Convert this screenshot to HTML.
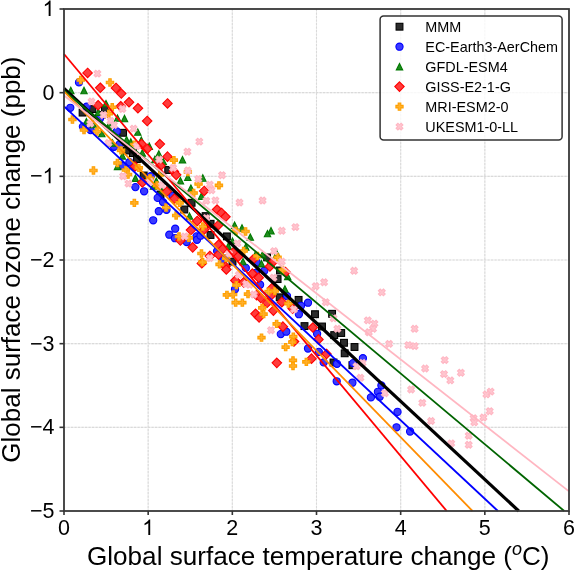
<!DOCTYPE html><html><head><meta charset="utf-8"><style>html,body{margin:0;padding:0;background:#fff;}svg{display:block;font-family:"Liberation Sans",sans-serif;will-change:transform;}</style></head><body>
<svg width="575" height="571" viewBox="0 0 575 571">
<rect width="575" height="571" fill="#fff"/>
<path d="M148.17 9V511M232.33 9V511M316.50 9V511M400.67 9V511M484.83 9V511M64 92.67H569M64 176.33H569M64 260.00H569M64 343.67H569M64 427.33H569" stroke="#f0f0f0" stroke-width="1.1" fill="none"/>
<path d="M148.17 9V511M232.33 9V511M316.50 9V511M400.67 9V511M484.83 9V511M64 92.67H569M64 176.33H569M64 260.00H569M64 343.67H569M64 427.33H569" stroke="#dadada" stroke-width="1.1" stroke-dasharray="2.2,1.3" fill="none"/>
<g fill="#2c2c2c" stroke="#000" stroke-width="1.1">
<rect x="79.2" y="109.2" width="6.8" height="6.8"/>
<rect x="89" y="105.7" width="6.8" height="6.8"/>
<rect x="98.6" y="111.6" width="6.8" height="6.8"/>
<rect x="101.5" y="106.3" width="6.8" height="6.8"/>
<rect x="119.7" y="129.4" width="6.8" height="6.8"/>
<rect x="129.5" y="149.7" width="6.8" height="6.8"/>
<rect x="164.8" y="166.6" width="6.8" height="6.8"/>
<rect x="140.3" y="172.1" width="6.8" height="6.8"/>
<rect x="157.1" y="191.1" width="6.8" height="6.8"/>
<rect x="188.2" y="199.4" width="6.8" height="6.8"/>
<rect x="180.9" y="206.1" width="6.8" height="6.8"/>
<rect x="202.2" y="212.7" width="6.8" height="6.8"/>
<rect x="207.1" y="231.6" width="6.8" height="6.8"/>
<rect x="223.5" y="233" width="6.8" height="6.8"/>
<rect x="229.1" y="258.2" width="6.8" height="6.8"/>
<rect x="263.7" y="254" width="6.8" height="6.8"/>
<rect x="274.2" y="275.7" width="6.8" height="6.8"/>
<rect x="276.3" y="293.9" width="6.8" height="6.8"/>
<rect x="295.2" y="296.5" width="6.8" height="6.8"/>
<rect x="311.6" y="310.8" width="6.8" height="6.8"/>
<rect x="301.1" y="322.7" width="6.8" height="6.8"/>
<rect x="328.7" y="310.4" width="6.8" height="6.8"/>
<rect x="337.8" y="329.6" width="6.8" height="6.8"/>
<rect x="330.8" y="331.7" width="6.8" height="6.8"/>
<rect x="318.6" y="323.1" width="6.8" height="6.8"/>
<rect x="340.6" y="339.4" width="6.8" height="6.8"/>
<rect x="351.1" y="343.6" width="6.8" height="6.8"/>
<rect x="341.3" y="349.9" width="6.8" height="6.8"/>
<rect x="330.1" y="359.1" width="6.8" height="6.8"/>
<rect x="349" y="361.8" width="6.8" height="6.8"/>
<rect x="207.2" y="220.4" width="6.8" height="6.8"/>
<rect x="123.1" y="147.1" width="6.8" height="6.8"/>
<rect x="133.6" y="155.6" width="6.8" height="6.8"/>
<rect x="276.6" y="267.1" width="6.8" height="6.8"/>
</g>
<g fill="#3a3aff" stroke="#0000ff" stroke-width="1.1">
<circle cx="79" cy="82.4" r="3.6"/>
<circle cx="70.3" cy="107.8" r="3.6"/>
<circle cx="86.6" cy="106.7" r="3.6"/>
<circle cx="100" cy="118.5" r="3.6"/>
<circle cx="82.9" cy="126.6" r="3.6"/>
<circle cx="90.6" cy="130.1" r="3.6"/>
<circle cx="116.8" cy="131.4" r="3.6"/>
<circle cx="114" cy="146.8" r="3.6"/>
<circle cx="119.6" cy="144.3" r="3.6"/>
<circle cx="129.4" cy="162.2" r="3.6"/>
<circle cx="122.4" cy="165.7" r="3.6"/>
<circle cx="135.4" cy="187.1" r="3.6"/>
<circle cx="144.1" cy="191.3" r="3.6"/>
<circle cx="150.7" cy="176.2" r="3.6"/>
<circle cx="157.7" cy="197.9" r="3.6"/>
<circle cx="172.4" cy="195.8" r="3.6"/>
<circle cx="158.8" cy="211.2" r="3.6"/>
<circle cx="153.2" cy="220.3" r="3.6"/>
<circle cx="166.5" cy="209.8" r="3.6"/>
<circle cx="169.3" cy="234.7" r="3.6"/>
<circle cx="175.2" cy="228.7" r="3.6"/>
<circle cx="174.9" cy="238.2" r="3.6"/>
<circle cx="163" cy="202.1" r="3.6"/>
<circle cx="196.5" cy="236.4" r="3.6"/>
<circle cx="186.7" cy="242" r="3.6"/>
<circle cx="197" cy="239.8" r="3.6"/>
<circle cx="200.5" cy="235.7" r="3.6"/>
<circle cx="217.1" cy="251.1" r="3.6"/>
<circle cx="223.4" cy="260.2" r="3.6"/>
<circle cx="245.8" cy="267.9" r="3.6"/>
<circle cx="264.3" cy="270.7" r="3.6"/>
<circle cx="256.6" cy="262.3" r="3.6"/>
<circle cx="235" cy="289.3" r="3.6"/>
<circle cx="260.1" cy="284.7" r="3.6"/>
<circle cx="255.9" cy="272.8" r="3.6"/>
<circle cx="308" cy="302.7" r="3.6"/>
<circle cx="301" cy="305.8" r="3.6"/>
<circle cx="298.9" cy="314.2" r="3.6"/>
<circle cx="287" cy="296" r="3.6"/>
<circle cx="280.8" cy="334.1" r="3.6"/>
<circle cx="317.1" cy="333.8" r="3.6"/>
<circle cx="286.3" cy="331.7" r="3.6"/>
<circle cx="308" cy="348.5" r="3.6"/>
<circle cx="337" cy="363.8" r="3.6"/>
<circle cx="353.1" cy="363.1" r="3.6"/>
<circle cx="318.8" cy="351.9" r="3.6"/>
<circle cx="323.7" cy="362.4" r="3.6"/>
<circle cx="336.7" cy="381.3" r="3.6"/>
<circle cx="352.4" cy="382.7" r="3.6"/>
<circle cx="362.9" cy="358.2" r="3.6"/>
<circle cx="381.4" cy="385.5" r="3.6"/>
<circle cx="377.9" cy="391.8" r="3.6"/>
<circle cx="370.9" cy="397.4" r="3.6"/>
<circle cx="379.7" cy="396.7" r="3.6"/>
<circle cx="397.5" cy="411.9" r="3.6"/>
<circle cx="396.5" cy="427.3" r="3.6"/>
<circle cx="410.1" cy="431.5" r="3.6"/>
</g>
<g fill="#1e8c1e" stroke="#007800" stroke-width="1.1">
<path d="M70.8,87.3L74,93.7L67.6,93.7Z"/>
<path d="M84,87.3L87.2,93.7L80.8,93.7Z"/>
<path d="M106,100.4L109.2,106.8L102.8,106.8Z"/>
<path d="M98.3,109.1L101.5,115.5L95.1,115.5Z"/>
<path d="M86.4,118.5L89.6,124.9L83.2,124.9Z"/>
<path d="M93.4,121.3L96.6,127.7L90.2,127.7Z"/>
<path d="M101.8,130.4L105,136.8L98.6,136.8Z"/>
<path d="M117.5,114.9L120.7,121.3L114.3,121.3Z"/>
<path d="M124.5,115.3L127.7,121.7L121.3,121.7Z"/>
<path d="M137.8,128.9L141,135.3L134.6,135.3Z"/>
<path d="M109.1,121.9L112.3,128.3L105.9,128.3Z"/>
<path d="M126.6,136.6L129.8,143L123.4,143Z"/>
<path d="M130.8,138.7L134,145.1L127.6,145.1Z"/>
<path d="M122.4,152.7L125.6,159.1L119.2,159.1Z"/>
<path d="M117.5,163.2L120.7,169.6L114.3,169.6Z"/>
<path d="M158.8,150.7L162,157.1L155.6,157.1Z"/>
<path d="M163.3,158.4L166.5,164.8L160.1,164.8Z"/>
<path d="M141.3,137.1L144.5,143.5L138.1,143.5Z"/>
<path d="M149.3,143L152.5,149.4L146.1,149.4Z"/>
<path d="M142.3,149.7L145.5,156.1L139.1,156.1Z"/>
<path d="M154.9,156.3L158.1,162.7L151.7,162.7Z"/>
<path d="M135.4,175.1L138.6,181.5L132.2,181.5Z"/>
<path d="M156.3,177.9L159.5,184.3L153.1,184.3Z"/>
<path d="M162.6,186.3L165.8,192.7L159.4,192.7Z"/>
<path d="M153.5,182.8L156.7,189.2L150.3,189.2Z"/>
<path d="M182.5,156.6L185.7,163L179.3,163Z"/>
<path d="M187.8,174.1L191,180.5L184.6,180.5Z"/>
<path d="M180.4,177.6L183.6,184L177.2,184Z"/>
<path d="M202.8,174.8L206,181.2L199.6,181.2Z"/>
<path d="M190.9,184.9L194.1,191.3L187.7,191.3Z"/>
<path d="M201.4,193L204.6,199.4L198.2,199.4Z"/>
<path d="M189.5,212.9L192.7,219.3L186.3,219.3Z"/>
<path d="M234.6,222L237.8,228.4L231.4,228.4Z"/>
<path d="M242,224.8L245.2,231.2L238.8,231.2Z"/>
<path d="M232.5,238.1L235.7,244.5L229.3,244.5Z"/>
<path d="M228.3,243L231.5,249.4L225.1,249.4Z"/>
<path d="M243,258.4L246.2,264.8L239.8,264.8Z"/>
<path d="M245.8,243.7L249,250.1L242.6,250.1Z"/>
<path d="M271,227.6L274.2,234L267.8,234Z"/>
<path d="M267.5,230.4L270.7,236.8L264.3,236.8Z"/>
<path d="M250.3,233.9L253.5,240.3L247.1,240.3Z"/>
<path d="M276.9,250.7L280.1,257.1L273.7,257.1Z"/>
<path d="M255.2,252.1L258.4,258.5L252,258.5Z"/>
<path d="M262.6,251.4L265.8,257.8L259.4,257.8Z"/>
<path d="M261.5,260.5L264.7,266.9L258.3,266.9Z"/>
<path d="M287.7,273.2L290.9,279.6L284.5,279.6Z"/>
<path d="M284.9,285.8L288.1,292.2L281.7,292.2Z"/>
<path d="M112.5,139.8L115.7,146.2L109.3,146.2Z"/>
</g>
<g fill="#ff3c3c" stroke="#ff0000" stroke-width="1.1">
<path d="M87.6,68.2L92.3,72.9L87.6,77.7L82.8,72.9Z"/>
<path d="M100.3,83L105,87.8L100.3,92.5L95.5,87.8Z"/>
<path d="M116,83.2L120.8,88L116,92.8L111.2,88Z"/>
<path d="M121.3,88.8L126,93.6L121.3,98.3L116.5,93.6Z"/>
<path d="M98.1,100.5L102.8,105.2L98.1,110L93.3,105.2Z"/>
<path d="M120.7,101.5L125.5,106.2L120.7,111L116,106.2Z"/>
<path d="M129,97.5L133.8,102.3L129,107L124.2,102.3Z"/>
<path d="M137.9,103.5L142.7,108.3L137.9,113L133.2,108.3Z"/>
<path d="M167.5,98.7L172.2,103.4L167.5,108.2L162.8,103.4Z"/>
<path d="M135,161.7L139.8,166.4L135,171.2L130.2,166.4Z"/>
<path d="M147.2,116.2L151.9,121L147.2,125.8L142.4,121Z"/>
<path d="M159.8,139.3L164.6,144.1L159.8,148.8L155.1,144.1Z"/>
<path d="M167.5,151.9L172.2,156.7L167.5,161.4L162.8,156.7Z"/>
<path d="M141.6,139.3L146.3,144.1L141.6,148.8L136.8,144.1Z"/>
<path d="M147.2,144.2L151.9,149L147.2,153.8L142.4,149Z"/>
<path d="M160.5,161.1L165.2,165.8L160.5,170.6L155.8,165.8Z"/>
<path d="M173.8,166.7L178.6,171.4L173.8,176.2L169.1,171.4Z"/>
<path d="M142.3,177.8L147.1,182.5L142.3,187.2L137.6,182.5Z"/>
<path d="M166.8,186.8L171.6,191.6L166.8,196.3L162.1,191.6Z"/>
<path d="M174.5,193.8L179.2,198.6L174.5,203.3L169.8,198.6Z"/>
<path d="M176.2,170.1L180.9,174.8L176.2,179.6L171.4,174.8Z"/>
<path d="M204.2,186.2L208.9,190.9L204.2,195.7L199.4,190.9Z"/>
<path d="M197.2,216.2L201.9,221L197.2,225.8L192.4,221Z"/>
<path d="M190.9,225.3L195.7,230.1L190.9,234.8L186.2,230.1Z"/>
<path d="M204.2,224.7L208.9,229.4L204.2,234.2L199.4,229.4Z"/>
<path d="M217.1,204.8L221.8,209.5L217.1,214.2L212.3,209.5Z"/>
<path d="M221.5,208.2L226.2,213L221.5,217.8L216.8,213Z"/>
<path d="M225.5,212.1L230.2,216.8L225.5,221.6L220.8,216.8Z"/>
<path d="M218.5,220.2L223.2,224.9L218.5,229.7L213.8,224.9Z"/>
<path d="M192.7,242.6L197.4,247.3L192.7,252.1L187.9,247.3Z"/>
<path d="M201.8,258.6L206.6,263.4L201.8,268.1L197.1,263.4Z"/>
<path d="M209.8,251.2L214.6,256L209.8,260.8L205.1,256Z"/>
<path d="M180.4,235.8L185.2,240.6L180.4,245.3L175.7,240.6Z"/>
<path d="M218.5,240.1L223.2,244.8L218.5,249.6L213.8,244.8Z"/>
<path d="M222.7,244.2L227.4,249L222.7,253.8L217.9,249Z"/>
<path d="M233.2,247.8L237.9,252.5L233.2,257.2L228.4,252.5Z"/>
<path d="M238.1,251.9L242.8,256.7L238.1,261.4L233.3,256.7Z"/>
<path d="M225.5,261.8L230.2,266.5L225.5,271.2L220.8,266.5Z"/>
<path d="M218.5,249.8L223.2,254.6L218.5,259.4L213.8,254.6Z"/>
<path d="M253.1,254.8L257.9,259.5L253.1,264.2L248.3,259.5Z"/>
<path d="M272,258.2L276.8,263L272,267.8L267.2,263Z"/>
<path d="M269.9,261.8L274.6,266.5L269.9,271.2L265.1,266.5Z"/>
<path d="M252.4,268.8L257.1,273.5L252.4,278.2L247.7,273.5Z"/>
<path d="M226.3,264.8L231.1,269.5L226.3,274.2L221.6,269.5Z"/>
<path d="M235.3,275.8L240.1,280.5L235.3,285.2L230.6,280.5Z"/>
<path d="M243.7,277.6L248.4,282.3L243.7,287.1L238.9,282.3Z"/>
<path d="M258.7,272.9L263.4,277.7L258.7,282.4L253.9,277.7Z"/>
<path d="M272,283.4L276.8,288.2L272,292.9L267.2,288.2Z"/>
<path d="M270.6,291.1L275.4,295.9L270.6,300.6L265.9,295.9Z"/>
<path d="M281.8,297.4L286.6,302.2L281.8,306.9L277.1,302.2Z"/>
<path d="M256.6,290.4L261.4,295.2L256.6,299.9L251.9,295.2Z"/>
<path d="M260.8,293.2L265.6,298L260.8,302.8L256.1,298Z"/>
<path d="M267.1,298.1L271.9,302.9L267.1,307.6L262.4,302.9Z"/>
<path d="M285.6,267.4L290.4,272.2L285.6,276.9L280.9,272.2Z"/>
<path d="M292.6,303.9L297.4,308.6L292.6,313.4L287.9,308.6Z"/>
<path d="M255.6,309.1L260.4,313.8L255.6,318.6L250.8,313.8Z"/>
<path d="M259.1,312.6L263.9,317.3L259.1,322.1L254.4,317.3Z"/>
<path d="M273.4,305.9L278.1,310.6L273.4,315.4L268.6,310.6Z"/>
<path d="M282.9,321.9L287.6,326.7L282.9,331.4L278.1,326.7Z"/>
<path d="M312.9,322.8L317.6,327.5L312.9,332.2L308.1,327.5Z"/>
<path d="M294,336.8L298.8,341.5L294,346.2L289.2,341.5Z"/>
<path d="M318.5,334.6L323.2,339.4L318.5,344.1L313.8,339.4Z"/>
<path d="M326.5,349.2L331.2,354L326.5,358.8L321.8,354Z"/>
<path d="M311.5,353.9L316.2,358.7L311.5,363.4L306.8,358.7Z"/>
<path d="M276.8,358.1L281.6,362.8L276.8,367.6L272.1,362.8Z"/>
</g>
<g fill="#ffb02c" stroke="#ffa000" stroke-width="1.1">
<path d="M79.5,76.2L82,76.2L82,78.7L84.5,78.7L84.5,81.2L82,81.2L82,83.6L79.5,83.6L79.5,81.2L77.1,81.2L77.1,78.7L79.5,78.7Z"/>
<path d="M108.8,78.8L111.2,78.8L111.2,81.2L113.7,81.2L113.7,83.7L111.2,83.7L111.2,86.1L108.8,86.1L108.8,83.7L106.3,83.7L106.3,81.2L108.8,81.2Z"/>
<path d="M111,103.6L113.5,103.6L113.5,106L116,106L116,108.5L113.5,108.5L113.5,111L111,111L111,108.5L108.6,108.5L108.6,106L111,106Z"/>
<path d="M71.2,115.9L73.7,115.9L73.7,118.3L76.1,118.3L76.1,120.8L73.7,120.8L73.7,123.2L71.2,123.2L71.2,120.8L68.8,120.8L68.8,118.3L71.2,118.3Z"/>
<path d="M82.8,126.4L85.2,126.4L85.2,128.8L87.7,128.8L87.7,131.3L85.2,131.3L85.2,133.8L82.8,133.8L82.8,131.3L80.3,131.3L80.3,128.8L82.8,128.8Z"/>
<path d="M95.7,127.8L98.2,127.8L98.2,130.2L100.6,130.2L100.6,132.8L98.2,132.8L98.2,135.2L95.7,135.2L95.7,132.8L93.2,132.8L93.2,130.2L95.7,130.2Z"/>
<path d="M107.5,110.1L110,110.1L110,112.5L112.5,112.5L112.5,115L110,115L110,117.5L107.5,117.5L107.5,115L105.1,115L105.1,112.5L107.5,112.5Z"/>
<path d="M133.1,141L135.6,141L135.6,143.4L138,143.4L138,145.9L135.6,145.9L135.6,148.3L133.1,148.3L133.1,145.9L130.7,145.9L130.7,143.4L133.1,143.4Z"/>
<path d="M119.8,146.7L122.2,146.7L122.2,149.1L124.7,149.1L124.7,151.6L122.2,151.6L122.2,154L119.8,154L119.8,151.6L117.3,151.6L117.3,149.1L119.8,149.1Z"/>
<path d="M116.2,159.2L118.8,159.2L118.8,161.7L121.2,161.7L121.2,164.2L118.8,164.2L118.8,166.6L116.2,166.6L116.2,164.2L113.8,164.2L113.8,161.7L116.2,161.7Z"/>
<path d="M92.2,166.8L94.7,166.8L94.7,169.2L97.1,169.2L97.1,171.7L94.7,171.7L94.7,174.1L92.2,174.1L92.2,171.7L89.8,171.7L89.8,169.2L92.2,169.2Z"/>
<path d="M172.6,156.5L175.1,156.5L175.1,158.9L177.5,158.9L177.5,161.4L175.1,161.4L175.1,163.8L172.6,163.8L172.6,161.4L170.2,161.4L170.2,158.9L172.6,158.9Z"/>
<path d="M124.7,166.2L127.2,166.2L127.2,168.7L129.6,168.7L129.6,171.2L127.2,171.2L127.2,173.6L124.7,173.6L124.7,171.2L122.2,171.2L122.2,168.7L124.7,168.7Z"/>
<path d="M126.8,170.8L129.2,170.8L129.2,173.2L131.7,173.2L131.7,175.8L129.2,175.8L129.2,178.2L126.8,178.2L126.8,175.8L124.3,175.8L124.3,173.2L126.8,173.2Z"/>
<path d="M133.1,199.2L135.6,199.2L135.6,201.6L138,201.6L138,204.1L135.6,204.1L135.6,206.5L133.1,206.5L133.1,204.1L130.7,204.1L130.7,201.6L133.1,201.6Z"/>
<path d="M137.6,164.2L140.1,164.2L140.1,166.6L142.5,166.6L142.5,169.1L140.1,169.1L140.1,171.5L137.6,171.5L137.6,169.1L135.2,169.1L135.2,166.6L137.6,166.6Z"/>
<path d="M148.8,174.7L151.2,174.7L151.2,177.1L153.7,177.1L153.7,179.6L151.2,179.6L151.2,182L148.8,182L148.8,179.6L146.3,179.6L146.3,177.1L148.8,177.1Z"/>
<path d="M155.8,181.7L158.2,181.7L158.2,184.1L160.7,184.1L160.7,186.6L158.2,186.6L158.2,189L155.8,189L155.8,186.6L153.3,186.6L153.3,184.1L155.8,184.1Z"/>
<path d="M158.6,171.2L161.1,171.2L161.1,173.6L163.5,173.6L163.5,176.1L161.1,176.1L161.1,178.5L158.6,178.5L158.6,176.1L156.2,176.1L156.2,173.6L158.6,173.6Z"/>
<path d="M186.6,168.3L189.1,168.3L189.1,170.8L191.5,170.8L191.5,173.2L189.1,173.2L189.1,175.7L186.6,175.7L186.6,173.2L184.2,173.2L184.2,170.8L186.6,170.8Z"/>
<path d="M197.3,180.2L199.8,180.2L199.8,182.7L202.2,182.7L202.2,185.2L199.8,185.2L199.8,187.6L197.3,187.6L197.3,185.2L194.9,185.2L194.9,182.7L197.3,182.7Z"/>
<path d="M192.4,189.3L194.9,189.3L194.9,191.8L197.3,191.8L197.3,194.2L194.9,194.2L194.9,196.7L192.4,196.7L192.4,194.2L190,194.2L190,191.8L192.4,191.8Z"/>
<path d="M178.4,199.2L180.9,199.2L180.9,201.6L183.3,201.6L183.3,204.1L180.9,204.1L180.9,206.5L178.4,206.5L178.4,204.1L176,204.1L176,201.6L178.4,201.6Z"/>
<path d="M164.8,203.8L167.3,203.8L167.3,206.2L169.8,206.2L169.8,208.7L167.3,208.7L167.3,211.1L164.8,211.1L164.8,208.7L162.4,208.7L162.4,206.2L164.8,206.2Z"/>
<path d="M174.9,211.8L177.4,211.8L177.4,214.2L179.8,214.2L179.8,216.7L177.4,216.7L177.4,219.1L174.9,219.1L174.9,216.7L172.5,216.7L172.5,214.2L174.9,214.2Z"/>
<path d="M201.6,222.9L204.1,222.9L204.1,225.3L206.5,225.3L206.5,227.8L204.1,227.8L204.1,230.2L201.6,230.2L201.6,227.8L199.2,227.8L199.2,225.3L201.6,225.3Z"/>
<path d="M177.8,232.8L180.2,232.8L180.2,235.2L182.7,235.2L182.7,237.7L180.2,237.7L180.2,240.1L177.8,240.1L177.8,237.7L175.3,237.7L175.3,235.2L177.8,235.2Z"/>
<path d="M187.6,234.2L190.1,234.2L190.1,236.6L192.5,236.6L192.5,239.1L190.1,239.1L190.1,241.5L187.6,241.5L187.6,239.1L185.2,239.1L185.2,236.6L187.6,236.6Z"/>
<path d="M217.7,181.7L220.2,181.7L220.2,184.1L222.6,184.1L222.6,186.6L220.2,186.6L220.2,189L217.7,189L217.7,186.6L215.2,186.6L215.2,184.1L217.7,184.1Z"/>
<path d="M244.2,227.8L246.8,227.8L246.8,230.2L249.2,230.2L249.2,232.8L246.8,232.8L246.8,235.2L244.2,235.2L244.2,232.8L241.8,232.8L241.8,230.2L244.2,230.2Z"/>
<path d="M234.8,227.3L237.2,227.3L237.2,229.8L239.7,229.8L239.7,232.2L237.2,232.2L237.2,234.7L234.8,234.7L234.8,232.2L232.3,232.2L232.3,229.8L234.8,229.8Z"/>
<path d="M200.2,249.9L202.7,249.9L202.7,252.3L205.1,252.3L205.1,254.8L202.7,254.8L202.7,257.2L200.2,257.2L200.2,254.8L197.8,254.8L197.8,252.3L200.2,252.3Z"/>
<path d="M201.2,258.6L203.8,258.6L203.8,260.9L206.2,260.9L206.2,263.4L203.8,263.4L203.8,265.8L201.2,265.8L201.2,263.4L198.8,263.4L198.8,260.9L201.2,260.9Z"/>
<path d="M218.3,260.8L220.8,260.8L220.8,263.1L223.2,263.1L223.2,265.6L220.8,265.6L220.8,268L218.3,268L218.3,265.6L215.9,265.6L215.9,263.1L218.3,263.1Z"/>
<path d="M224.9,254.5L227.4,254.5L227.4,256.9L229.8,256.9L229.8,259.4L227.4,259.4L227.4,261.8L224.9,261.8L224.9,259.4L222.5,259.4L222.5,256.9L224.9,256.9Z"/>
<path d="M242.4,247.4L244.9,247.4L244.9,249.8L247.3,249.8L247.3,252.3L244.9,252.3L244.9,254.8L242.4,254.8L242.4,252.3L240,252.3L240,249.8L242.4,249.8Z"/>
<path d="M276.4,253.7L278.9,253.7L278.9,256.1L281.2,256.1L281.2,258.6L278.9,258.6L278.9,261L276.4,261L276.4,258.6L274,258.6L274,256.1L276.4,256.1Z"/>
<path d="M256.1,252.3L258.6,252.3L258.6,254.8L260.9,254.8L260.9,257.2L258.6,257.2L258.6,259.6L256.1,259.6L256.1,257.2L253.7,257.2L253.7,254.8L256.1,254.8Z"/>
<path d="M281.2,266.4L283.8,266.4L283.8,268.8L286.1,268.8L286.1,271.2L283.8,271.2L283.8,273.6L281.2,273.6L281.2,271.2L278.9,271.2L278.9,268.8L281.2,268.8Z"/>
<path d="M235.2,281.5L237.7,281.5L237.7,283.9L240.1,283.9L240.1,286.4L237.7,286.4L237.7,288.8L235.2,288.8L235.2,286.4L232.8,286.4L232.8,283.9L235.2,283.9Z"/>
<path d="M225.7,291.2L228.2,291.2L228.2,293.6L230.6,293.6L230.6,296.1L228.2,296.1L228.2,298.5L225.7,298.5L225.7,296.1L223.2,296.1L223.2,293.6L225.7,293.6Z"/>
<path d="M231.9,290.9L234.4,290.9L234.4,293.2L236.8,293.2L236.8,295.8L234.4,295.8L234.4,298.1L231.9,298.1L231.9,295.8L229.5,295.8L229.5,293.2L231.9,293.2Z"/>
<path d="M234.4,299L236.9,299L236.9,301.4L239.3,301.4L239.3,303.9L236.9,303.9L236.9,306.2L234.4,306.2L234.4,303.9L232,303.9L232,301.4L234.4,301.4Z"/>
<path d="M241.1,299L243.6,299L243.6,301.4L246,301.4L246,303.9L243.6,303.9L243.6,306.2L241.1,306.2L241.1,303.9L238.7,303.9L238.7,301.4L241.1,301.4Z"/>
<path d="M246.8,290.6L249.2,290.6L249.2,292.9L251.7,292.9L251.7,295.4L249.2,295.4L249.2,297.8L246.8,297.8L246.8,295.4L244.3,295.4L244.3,292.9L246.8,292.9Z"/>
<path d="M273.6,287.4L276.1,287.4L276.1,289.8L278.4,289.8L278.4,292.2L276.1,292.2L276.1,294.6L273.6,294.6L273.6,292.2L271.2,292.2L271.2,289.8L273.6,289.8Z"/>
<path d="M267.2,288.1L269.8,288.1L269.8,290.4L272.1,290.4L272.1,292.9L269.8,292.9L269.8,295.3L267.2,295.3L267.2,292.9L264.9,292.9L264.9,290.4L267.2,290.4Z"/>
<path d="M260.9,304.2L263.4,304.2L263.4,306.6L265.8,306.6L265.8,309.1L263.4,309.1L263.4,311.4L260.9,311.4L260.9,309.1L258.6,309.1L258.6,306.6L260.9,306.6Z"/>
<path d="M287.1,300.1L289.6,300.1L289.6,302.4L292,302.4L292,304.9L289.6,304.9L289.6,307.3L287.1,307.3L287.1,304.9L284.8,304.9L284.8,302.4L287.1,302.4Z"/>
<path d="M262.4,310.5L264.9,310.5L264.9,312.9L267.2,312.9L267.2,315.4L264.9,315.4L264.9,317.8L262.4,317.8L262.4,315.4L260,315.4L260,312.9L262.4,312.9Z"/>
<path d="M275.4,320.2L277.9,320.2L277.9,322.6L280.2,322.6L280.2,325.1L277.9,325.1L277.9,327.5L275.4,327.5L275.4,325.1L273,325.1L273,322.6L275.4,322.6Z"/>
<path d="M260.2,334L262.8,334L262.8,336.4L265.1,336.4L265.1,338.9L262.8,338.9L262.8,341.2L260.2,341.2L260.2,338.9L257.9,338.9L257.9,336.4L260.2,336.4Z"/>
<path d="M292.1,333L294.6,333L294.6,335.4L296.9,335.4L296.9,337.9L294.6,337.9L294.6,340.2L292.1,340.2L292.1,337.9L289.7,337.9L289.7,335.4L292.1,335.4Z"/>
<path d="M291.1,338.6L293.6,338.6L293.6,340.9L295.9,340.9L295.9,343.4L293.6,343.4L293.6,345.8L291.1,345.8L291.1,343.4L288.7,343.4L288.7,340.9L291.1,340.9Z"/>
<path d="M284.4,343.5L286.9,343.5L286.9,345.9L289.2,345.9L289.2,348.4L286.9,348.4L286.9,350.8L284.4,350.8L284.4,348.4L282,348.4L282,345.9L284.4,345.9Z"/>
<path d="M291.8,356.8L294.2,356.8L294.2,359.1L296.6,359.1L296.6,361.6L294.2,361.6L294.2,364L291.8,364L291.8,361.6L289.4,361.6L289.4,359.1L291.8,359.1Z"/>
<path d="M291.8,362.4L294.2,362.4L294.2,364.8L296.6,364.8L296.6,367.2L294.2,367.2L294.2,369.6L291.8,369.6L291.8,367.2L289.4,367.2L289.4,364.8L291.8,364.8Z"/>
<path d="M305.1,358.2L307.6,358.2L307.6,360.6L309.9,360.6L309.9,363.1L307.6,363.1L307.6,365.4L305.1,365.4L305.1,363.1L302.7,363.1L302.7,360.6L305.1,360.6Z"/>
</g>
<g fill="#ffc6cf" stroke="#ffb6c3" stroke-width="1.1">
<path d="M99,70.2L100.8,72L99.2,73.6L100.8,75.2L99,77L97.4,75.4L95.8,77L94,75.2L95.6,73.6L94,72L95.8,70.2L97.4,71.8Z"/>
<path d="M93.1,98.1L94.9,99.9L93.3,101.5L94.9,103.1L93.1,104.9L91.5,103.3L89.9,104.9L88.1,103.1L89.7,101.5L88.1,99.9L89.9,98.1L91.5,99.7Z"/>
<path d="M91.9,120.1L93.7,121.9L92.1,123.5L93.7,125.1L91.9,126.9L90.3,125.3L88.7,126.9L86.9,125.1L88.5,123.5L86.9,121.9L88.7,120.1L90.3,121.7Z"/>
<path d="M105.1,111.6L106.9,113.4L105.3,115L106.9,116.6L105.1,118.4L103.5,116.8L101.9,118.4L100.1,116.6L101.7,115L100.1,113.4L101.9,111.6L103.5,113.2Z"/>
<path d="M124,105.6L125.8,107.4L124.2,109L125.8,110.6L124,112.4L122.4,110.8L120.8,112.4L119,110.6L120.6,109L119,107.4L120.8,105.6L122.4,107.2Z"/>
<path d="M112.1,117.5L113.9,119.3L112.3,120.9L113.9,122.5L112.1,124.3L110.5,122.7L108.9,124.3L107.1,122.5L108.7,120.9L107.1,119.3L108.9,117.5L110.5,119.1Z"/>
<path d="M115.6,121.7L117.4,123.5L115.8,125.1L117.4,126.7L115.6,128.5L114,126.9L112.4,128.5L110.6,126.7L112.2,125.1L110.6,123.5L112.4,121.7L114,123.3Z"/>
<path d="M135.2,125.2L137,127L135.4,128.6L137,130.2L135.2,132L133.6,130.4L132,132L130.2,130.2L131.8,128.6L130.2,127L132,125.2L133.6,126.8Z"/>
<path d="M160.7,156.1L162.5,157.9L160.9,159.5L162.5,161.1L160.7,162.9L159.1,161.3L157.5,162.9L155.7,161.1L157.3,159.5L155.7,157.9L157.5,156.1L159.1,157.7Z"/>
<path d="M138.3,142.8L140.1,144.6L138.5,146.2L140.1,147.8L138.3,149.6L136.7,148L135.1,149.6L133.3,147.8L134.9,146.2L133.3,144.6L135.1,142.8L136.7,144.4Z"/>
<path d="M174.7,164.5L176.5,166.3L174.9,167.9L176.5,169.5L174.7,171.3L173.1,169.7L171.5,171.3L169.7,169.5L171.3,167.9L169.7,166.3L171.5,164.5L173.1,166.1Z"/>
<path d="M124.7,172.8L126.5,174.6L124.9,176.2L126.5,177.8L124.7,179.6L123.1,178L121.5,179.6L119.7,177.8L121.3,176.2L119.7,174.6L121.5,172.8L123.1,174.4Z"/>
<path d="M130,180.2L131.8,182L130.2,183.6L131.8,185.2L130,187L128.4,185.4L126.8,187L125,185.2L126.6,183.6L125,182L126.8,180.2L128.4,181.8Z"/>
<path d="M151.6,178.4L153.4,180.2L151.8,181.8L153.4,183.4L151.6,185.2L150,183.6L148.4,185.2L146.6,183.4L148.2,181.8L146.6,180.2L148.4,178.4L150,180Z"/>
<path d="M163.5,181.9L165.3,183.7L163.7,185.3L165.3,186.9L163.5,188.7L161.9,187.1L160.3,188.7L158.5,186.9L160.1,185.3L158.5,183.7L160.3,181.9L161.9,183.5Z"/>
<path d="M200.9,138.2L202.7,140L201.1,141.6L202.7,143.2L200.9,145L199.3,143.4L197.7,145L195.9,143.2L197.5,141.6L195.9,140L197.7,138.2L199.3,139.8Z"/>
<path d="M189,148.3L190.8,150.1L189.2,151.7L190.8,153.3L189,155.1L187.4,153.5L185.8,155.1L184,153.3L185.6,151.7L184,150.1L185.8,148.3L187.4,149.9Z"/>
<path d="M189.4,167.1L191.2,168.9L189.6,170.5L191.2,172.1L189.4,173.9L187.8,172.3L186.2,173.9L184.4,172.1L186,170.5L184.4,168.9L186.2,167.1L187.8,168.7Z"/>
<path d="M199.9,175.6L201.7,177.4L200.1,179L201.7,180.6L199.9,182.4L198.3,180.8L196.7,182.4L194.9,180.6L196.5,179L194.9,177.4L196.7,175.6L198.3,177.2Z"/>
<path d="M211.4,181.2L213.2,183L211.6,184.6L213.2,186.2L211.4,188L209.8,186.4L208.2,188L206.4,186.2L208,184.6L206.4,183L208.2,181.2L209.8,182.8Z"/>
<path d="M207.9,197.3L209.7,199.1L208.1,200.7L209.7,202.3L207.9,204.1L206.3,202.5L204.7,204.1L202.9,202.3L204.5,200.7L202.9,199.1L204.7,197.3L206.3,198.9Z"/>
<path d="M186.2,233L188,234.8L186.4,236.4L188,238L186.2,239.8L184.6,238.2L183,239.8L181.2,238L182.8,236.4L181.2,234.8L183,233L184.6,234.6Z"/>
<path d="M207.9,214.8L209.7,216.6L208.1,218.2L209.7,219.8L207.9,221.6L206.3,220L204.7,221.6L202.9,219.8L204.5,218.2L202.9,216.6L204.7,214.8L206.3,216.4Z"/>
<path d="M223.6,171.8L225.4,173.6L223.8,175.2L225.4,176.8L223.6,178.6L222,177L220.4,178.6L218.6,176.8L220.2,175.2L218.6,173.6L220.4,171.8L222,173.4Z"/>
<path d="M213.1,186.8L214.9,188.6L213.3,190.2L214.9,191.8L213.1,193.6L211.5,192L209.9,193.6L208.1,191.8L209.7,190.2L208.1,188.6L209.9,186.8L211.5,188.4Z"/>
<path d="M217,197L218.8,198.8L217.2,200.4L218.8,202L217,203.8L215.4,202.2L213.8,203.8L212,202L213.6,200.4L212,198.8L213.8,197L215.4,198.6Z"/>
<path d="M241.1,199.1L242.9,200.9L241.3,202.5L242.9,204.1L241.1,205.9L239.5,204.3L237.9,205.9L236.1,204.1L237.7,202.5L236.1,200.9L237.9,199.1L239.5,200.7Z"/>
<path d="M211.4,254.7L213.2,256.5L211.6,258.1L213.2,259.7L211.4,261.5L209.8,259.9L208.2,261.5L206.4,259.7L208,258.1L206.4,256.5L208.2,254.7L209.8,256.3Z"/>
<path d="M239,240L240.8,241.8L239.2,243.4L240.8,245L239,246.8L237.4,245.2L235.8,246.8L234,245L235.6,243.4L234,241.8L235.8,240L237.4,241.6Z"/>
<path d="M230.6,250.5L232.4,252.3L230.8,253.9L232.4,255.5L230.6,257.3L229,255.7L227.4,257.3L225.6,255.5L227.2,253.9L225.6,252.3L227.4,250.5L229,252.1Z"/>
<path d="M264.2,197.1L266,198.9L264.4,200.5L266,202.1L264.2,203.9L262.6,202.3L261,203.9L259.2,202.1L260.8,200.5L259.2,198.9L261,197.1L262.6,198.7Z"/>
<path d="M283.4,227.4L285.2,229.2L283.6,230.8L285.2,232.4L283.4,234.2L281.8,232.6L280.2,234.2L278.4,232.4L280,230.8L278.4,229.2L280.2,227.4L281.8,229Z"/>
<path d="M297,223.7L298.8,225.5L297.2,227.1L298.8,228.7L297,230.5L295.4,228.9L293.8,230.5L292,228.7L293.6,227.1L292,225.5L293.8,223.7L295.4,225.3Z"/>
<path d="M275.7,247.7L277.5,249.5L275.9,251.1L277.5,252.7L275.7,254.5L274.1,252.9L272.5,254.5L270.7,252.7L272.3,251.1L270.7,249.5L272.5,247.7L274.1,249.3Z"/>
<path d="M283.4,258.2L285.2,260L283.6,261.6L285.2,263.2L283.4,265L281.8,263.4L280.2,265L278.4,263.2L280,261.6L278.4,260L280.2,258.2L281.8,259.8Z"/>
<path d="M240.4,271.5L242.2,273.3L240.6,274.9L242.2,276.5L240.4,278.3L238.8,276.7L237.2,278.3L235.4,276.5L237,274.9L235.4,273.3L237.2,271.5L238.8,273.1Z"/>
<path d="M247.8,280.6L249.6,282.4L248,284L249.6,285.6L247.8,287.4L246.2,285.8L244.6,287.4L242.8,285.6L244.4,284L242.8,282.4L244.6,280.6L246.2,282.2Z"/>
<path d="M275,274.3L276.8,276.1L275.2,277.7L276.8,279.3L275,281.1L273.4,279.5L271.8,281.1L270,279.3L271.6,277.7L270,276.1L271.8,274.3L273.4,275.9Z"/>
<path d="M255.4,291.1L257.2,292.9L255.6,294.5L257.2,296.1L255.4,297.9L253.8,296.3L252.2,297.9L250.4,296.1L252,294.5L250.4,292.9L252.2,291.1L253.8,292.7Z"/>
<path d="M251.2,281.3L253,283.1L251.4,284.7L253,286.3L251.2,288.1L249.6,286.5L248,288.1L246.2,286.3L247.8,284.7L246.2,283.1L248,281.3L249.6,282.9Z"/>
<path d="M317.3,282.8L319.1,284.6L317.5,286.2L319.1,287.8L317.3,289.6L315.7,288L314.1,289.6L312.3,287.8L313.9,286.2L312.3,284.6L314.1,282.8L315.7,284.4Z"/>
<path d="M295.6,305.9L297.4,307.7L295.8,309.3L297.4,310.9L295.6,312.7L294,311.1L292.4,312.7L290.6,310.9L292.2,309.3L290.6,307.7L292.4,305.9L294,307.5Z"/>
<path d="M272.6,326.8L274.4,328.6L272.8,330.2L274.4,331.8L272.6,333.6L271,332L269.4,333.6L267.6,331.8L269.2,330.2L267.6,328.6L269.4,326.8L271,328.4Z"/>
<path d="M325.7,278.9L327.5,280.7L325.9,282.3L327.5,283.9L325.7,285.7L324.1,284.1L322.5,285.7L320.7,283.9L322.3,282.3L320.7,280.7L322.5,278.9L324.1,280.5Z"/>
<path d="M327.4,298.8L329.2,300.6L327.6,302.2L329.2,303.8L327.4,305.6L325.8,304L324.2,305.6L322.4,303.8L324,302.2L322.4,300.6L324.2,298.8L325.8,300.4Z"/>
<path d="M355.7,267.4L357.5,269.2L355.9,270.8L357.5,272.4L355.7,274.2L354.1,272.6L352.5,274.2L350.7,272.4L352.3,270.8L350.7,269.2L352.5,267.4L354.1,269Z"/>
<path d="M335.1,314.9L336.9,316.7L335.3,318.3L336.9,319.9L335.1,321.7L333.5,320.1L331.9,321.7L330.1,319.9L331.7,318.3L330.1,316.7L331.9,314.9L333.5,316.5Z"/>
<path d="M339,325.4L340.8,327.2L339.2,328.8L340.8,330.4L339,332.2L337.4,330.6L335.8,332.2L334,330.4L335.6,328.8L334,327.2L335.8,325.4L337.4,327Z"/>
<path d="M383.4,289L385.2,290.8L383.6,292.4L385.2,294L383.4,295.8L381.8,294.2L380.2,295.8L378.4,294L380,292.4L378.4,290.8L380.2,289L381.8,290.6Z"/>
<path d="M369.4,317L371.2,318.8L369.6,320.4L371.2,322L369.4,323.8L367.8,322.2L366.2,323.8L364.4,322L366,320.4L364.4,318.8L366.2,317L367.8,318.6Z"/>
<path d="M376,320.2L377.8,322L376.2,323.6L377.8,325.2L376,327L374.4,325.4L372.8,327L371,325.2L372.6,323.6L371,322L372.8,320.2L374.4,321.8Z"/>
<path d="M374.6,325.4L376.4,327.2L374.8,328.8L376.4,330.4L374.6,332.2L373,330.6L371.4,332.2L369.6,330.4L371.2,328.8L369.6,327.2L371.4,325.4L373,327Z"/>
<path d="M370.4,328.9L372.2,330.7L370.6,332.3L372.2,333.9L370.4,335.7L368.8,334.1L367.2,335.7L365.4,333.9L367,332.3L365.4,330.7L367.2,328.9L368.8,330.5Z"/>
<path d="M390.7,340.5L392.5,342.3L390.9,343.9L392.5,345.5L390.7,347.3L389.1,345.7L387.5,347.3L385.7,345.5L387.3,343.9L385.7,342.3L387.5,340.5L389.1,342.1Z"/>
<path d="M358.2,362.9L360,364.7L358.4,366.3L360,367.9L358.2,369.7L356.6,368.1L355,369.7L353.2,367.9L354.8,366.3L353.2,364.7L355,362.9L356.6,364.5Z"/>
<path d="M364.1,359.6L365.9,361.4L364.3,363L365.9,364.6L364.1,366.4L362.5,364.8L360.9,366.4L359.1,364.6L360.7,363L359.1,361.4L360.9,359.6L362.5,361.2Z"/>
<path d="M362,374.4L363.8,376.2L362.2,377.8L363.8,379.4L362,381.2L360.4,379.6L358.8,381.2L357,379.4L358.6,377.8L357,376.2L358.8,374.4L360.4,376Z"/>
<path d="M386.5,389.8L388.3,391.6L386.7,393.2L388.3,394.8L386.5,396.6L384.9,395L383.3,396.6L381.5,394.8L383.1,393.2L381.5,391.6L383.3,389.8L384.9,391.4Z"/>
<path d="M409.9,341.7L411.7,343.5L410.1,345.1L411.7,346.7L409.9,348.5L408.3,346.9L406.7,348.5L404.9,346.7L406.5,345.1L404.9,343.5L406.7,341.7L408.3,343.3Z"/>
<path d="M416.2,342.7L418,344.5L416.4,346.1L418,347.7L416.2,349.5L414.6,347.9L413,349.5L411.2,347.7L412.8,346.1L411.2,344.5L413,342.7L414.6,344.3Z"/>
<path d="M446.3,356.7L448.1,358.5L446.5,360.1L448.1,361.7L446.3,363.5L444.7,361.9L443.1,363.5L441.3,361.7L442.9,360.1L441.3,358.5L443.1,356.7L444.7,358.3Z"/>
<path d="M426.7,365.1L428.5,366.9L426.9,368.5L428.5,370.1L426.7,371.9L425.1,370.3L423.5,371.9L421.7,370.1L423.3,368.5L421.7,366.9L423.5,365.1L425.1,366.7Z"/>
<path d="M445.6,370.7L447.4,372.5L445.8,374.1L447.4,375.7L445.6,377.5L444,375.9L442.4,377.5L440.6,375.7L442.2,374.1L440.6,372.5L442.4,370.7L444,372.3Z"/>
<path d="M451.9,377L453.7,378.8L452.1,380.4L453.7,382L451.9,383.8L450.3,382.2L448.7,383.8L446.9,382L448.5,380.4L446.9,378.8L448.7,377L450.3,378.6Z"/>
<path d="M462.5,369.3L464.3,371.1L462.7,372.7L464.3,374.3L462.5,376.1L460.9,374.5L459.3,376.1L457.5,374.3L459.1,372.7L457.5,371.1L459.3,369.3L460.9,370.9Z"/>
<path d="M412.7,386.1L414.5,387.9L412.9,389.5L414.5,391.1L412.7,392.9L411.1,391.3L409.5,392.9L407.7,391.1L409.3,389.5L407.7,387.9L409.5,386.1L411.1,387.7Z"/>
<path d="M423.9,399.5L425.7,401.3L424.1,402.9L425.7,404.5L423.9,406.3L422.3,404.7L420.7,406.3L418.9,404.5L420.5,402.9L418.9,401.3L420.7,399.5L422.3,401.1Z"/>
<path d="M416.2,325.4L418,327.2L416.4,328.8L418,330.4L416.2,332.2L414.6,330.6L413,332.2L411.2,330.4L412.8,328.8L411.2,327.2L413,325.4L414.6,327Z"/>
<path d="M492.2,388.2L494,390L492.4,391.6L494,393.2L492.2,395L490.6,393.4L489,395L487.2,393.2L488.8,391.6L487.2,390L489,388.2L490.6,389.8Z"/>
<path d="M488,391L489.8,392.8L488.2,394.4L489.8,396L488,397.8L486.4,396.2L484.8,397.8L483,396L484.6,394.4L483,392.8L484.8,391L486.4,392.6Z"/>
<path d="M491.3,407.8L493.1,409.6L491.5,411.2L493.1,412.8L491.3,414.6L489.7,413L488.1,414.6L486.3,412.8L487.9,411.2L486.3,409.6L488.1,407.8L489.7,409.4Z"/>
<path d="M485,414.1L486.8,415.9L485.2,417.5L486.8,419.1L485,420.9L483.4,419.3L481.8,420.9L480,419.1L481.6,417.5L480,415.9L481.8,414.1L483.4,415.7Z"/>
<path d="M475.2,414.8L477,416.6L475.4,418.2L477,419.8L475.2,421.6L473.6,420L472,421.6L470.2,419.8L471.8,418.2L470.2,416.6L472,414.8L473.6,416.4Z"/>
<path d="M475.9,419L477.7,420.8L476.1,422.4L477.7,424L475.9,425.8L474.3,424.2L472.7,425.8L470.9,424L472.5,422.4L470.9,420.8L472.7,419L474.3,420.6Z"/>
<path d="M470.3,432.3L472.1,434.1L470.5,435.7L472.1,437.3L470.3,439.1L468.7,437.5L467.1,439.1L465.3,437.3L466.9,435.7L465.3,434.1L467.1,432.3L468.7,433.9Z"/>
<path d="M470.3,441.4L472.1,443.2L470.5,444.8L472.1,446.4L470.3,448.2L468.7,446.6L467.1,448.2L465.3,446.4L466.9,444.8L465.3,443.2L467.1,441.4L468.7,443Z"/>
<path d="M452.8,440L454.6,441.8L453,443.4L454.6,445L452.8,446.8L451.2,445.2L449.6,446.8L447.8,445L449.4,443.4L447.8,441.8L449.6,440L451.2,441.6Z"/>
<path d="M432.7,417.6L434.5,419.4L432.9,421L434.5,422.6L432.7,424.4L431.1,422.8L429.5,424.4L427.7,422.6L429.3,421L427.7,419.4L429.5,417.6L431.1,419.2Z"/>
<path d="M110.1,139.6L111.9,141.4L110.3,143L111.9,144.6L110.1,146.4L108.5,144.8L106.9,146.4L105.1,144.6L106.7,143L105.1,141.4L106.9,139.6L108.5,141.2Z"/>
</g>
<line x1="64" y1="88.5" x2="518.7" y2="511" stroke="#000000" stroke-width="3.2"/>
<line x1="64" y1="106.4" x2="497.9" y2="511" stroke="#0000ff" stroke-width="1.9"/>
<line x1="64" y1="90.5" x2="564.2" y2="511" stroke="#006400" stroke-width="1.8"/>
<line x1="64" y1="54.0" x2="446.7" y2="511" stroke="#ff0000" stroke-width="1.8"/>
<line x1="64" y1="91.3" x2="472.5" y2="511" stroke="#ff8c00" stroke-width="1.8"/>
<line x1="64" y1="95.5" x2="569" y2="491.4" stroke="#ffb6c1" stroke-width="1.8"/>
<rect x="64" y="9" width="505" height="502" fill="none" stroke="#383838" stroke-width="1.8"/>
<g stroke="#333" stroke-width="1.6">
<line x1="64.00" y1="511" x2="64.00" y2="515"/>
<line x1="148.17" y1="511" x2="148.17" y2="515"/>
<line x1="232.33" y1="511" x2="232.33" y2="515"/>
<line x1="316.50" y1="511" x2="316.50" y2="515"/>
<line x1="400.67" y1="511" x2="400.67" y2="515"/>
<line x1="484.83" y1="511" x2="484.83" y2="515"/>
<line x1="569.00" y1="511" x2="569.00" y2="515"/>
<line x1="59.5" y1="9.00" x2="64" y2="9.00"/>
<line x1="59.5" y1="92.67" x2="64" y2="92.67"/>
<line x1="59.5" y1="176.33" x2="64" y2="176.33"/>
<line x1="59.5" y1="260.00" x2="64" y2="260.00"/>
<line x1="59.5" y1="343.67" x2="64" y2="343.67"/>
<line x1="59.5" y1="427.33" x2="64" y2="427.33"/>
<line x1="59.5" y1="511.00" x2="64" y2="511.00"/>
</g>
<g font-size="21.5" fill="#000" stroke="none">
<text x="64.00" y="535" text-anchor="middle">0</text>
<path transform="translate(142.19,535.00) scale(0.01050,-0.01050)" d="M763 0H583V1147Q518 1085 412.5 1023T223 930V1104Q374 1175 487 1276T647 1472H763V0Z"/>
<text x="232.33" y="535" text-anchor="middle">2</text>
<text x="316.50" y="535" text-anchor="middle">3</text>
<text x="400.67" y="535" text-anchor="middle">4</text>
<text x="484.83" y="535" text-anchor="middle">5</text>
<text x="569.00" y="535" text-anchor="middle">6</text>
<path transform="translate(42.54,16.00) scale(0.01050,-0.01050)" d="M763 0H583V1147Q518 1085 412.5 1023T223 930V1104Q374 1175 487 1276T647 1472H763V0Z"/>
<text x="54.5" y="99.67" text-anchor="end">0</text>
<path transform="translate(42.54,183.33) scale(0.01050,-0.01050)" d="M763 0H583V1147Q518 1085 412.5 1023T223 930V1104Q374 1175 487 1276T647 1472H763V0Z"/>
<text x="42.54" y="183.33" text-anchor="end">−</text>
<text x="54.5" y="267.00" text-anchor="end">−2</text>
<text x="54.5" y="350.67" text-anchor="end">−3</text>
<text x="54.5" y="434.33" text-anchor="end">−4</text>
<text x="54.5" y="518.00" text-anchor="end">−5</text>
</g>
<text x="87" y="564.6" font-size="26.1">Global surface temperature change (<tspan font-style="italic" font-size="18" dy="-10">o</tspan><tspan dy="10">C)</tspan></text>
<text transform="translate(20.4,259.6) rotate(-90)" font-size="26" text-anchor="middle">Global surface ozone change (ppb)</text>
<rect x="380.1" y="15.9" width="182" height="124" rx="3.5" ry="3.5" fill="#fff" fill-opacity="0.8" stroke="#333" stroke-width="1.5"/>
<g fill="#2c2c2c" stroke="#000" stroke-width="1.1"><rect x="396.1" y="23.3" width="6.8" height="6.8"/></g>
<text x="425.3" y="31.70" font-size="14.4">MMM</text>
<g fill="#3a3aff" stroke="#0000ff" stroke-width="1.1"><circle cx="399.5" cy="46.7" r="3.6"/></g>
<text x="425.3" y="51.68" font-size="14.4">EC-Earth3-AerChem</text>
<g fill="#1e8c1e" stroke="#007800" stroke-width="1.1"><path d="M399.5,63.5L402.7,69.9L396.3,69.9Z"/></g>
<text x="425.3" y="71.66" font-size="14.4">GFDL-ESM4</text>
<g fill="#ff3c3c" stroke="#ff0000" stroke-width="1.1"><path d="M399.5,81.9L404.2,86.6L399.5,91.4L394.8,86.6Z"/></g>
<text x="425.3" y="91.64" font-size="14.4">GISS-E2-1-G</text>
<g fill="#ffb02c" stroke="#ffa000" stroke-width="1.1"><path d="M398.2,103L400.8,103L400.8,105.4L403.1,105.4L403.1,107.9L400.8,107.9L400.8,110.3L398.2,110.3L398.2,107.9L395.9,107.9L395.9,105.4L398.2,105.4Z"/></g>
<text x="425.3" y="111.62" font-size="14.4">MRI-ESM2-0</text>
<g fill="#ffc6cf" stroke="#ffb6c3" stroke-width="1.1"><path d="M401.1,123.2L402.9,125L401.3,126.6L402.9,128.2L401.1,130L399.5,128.4L397.9,130L396.1,128.2L397.7,126.6L396.1,125L397.9,123.2L399.5,124.8Z"/></g>
<text x="425.3" y="131.60" font-size="14.4">UKESM1-0-LL</text>
</svg></body></html>
